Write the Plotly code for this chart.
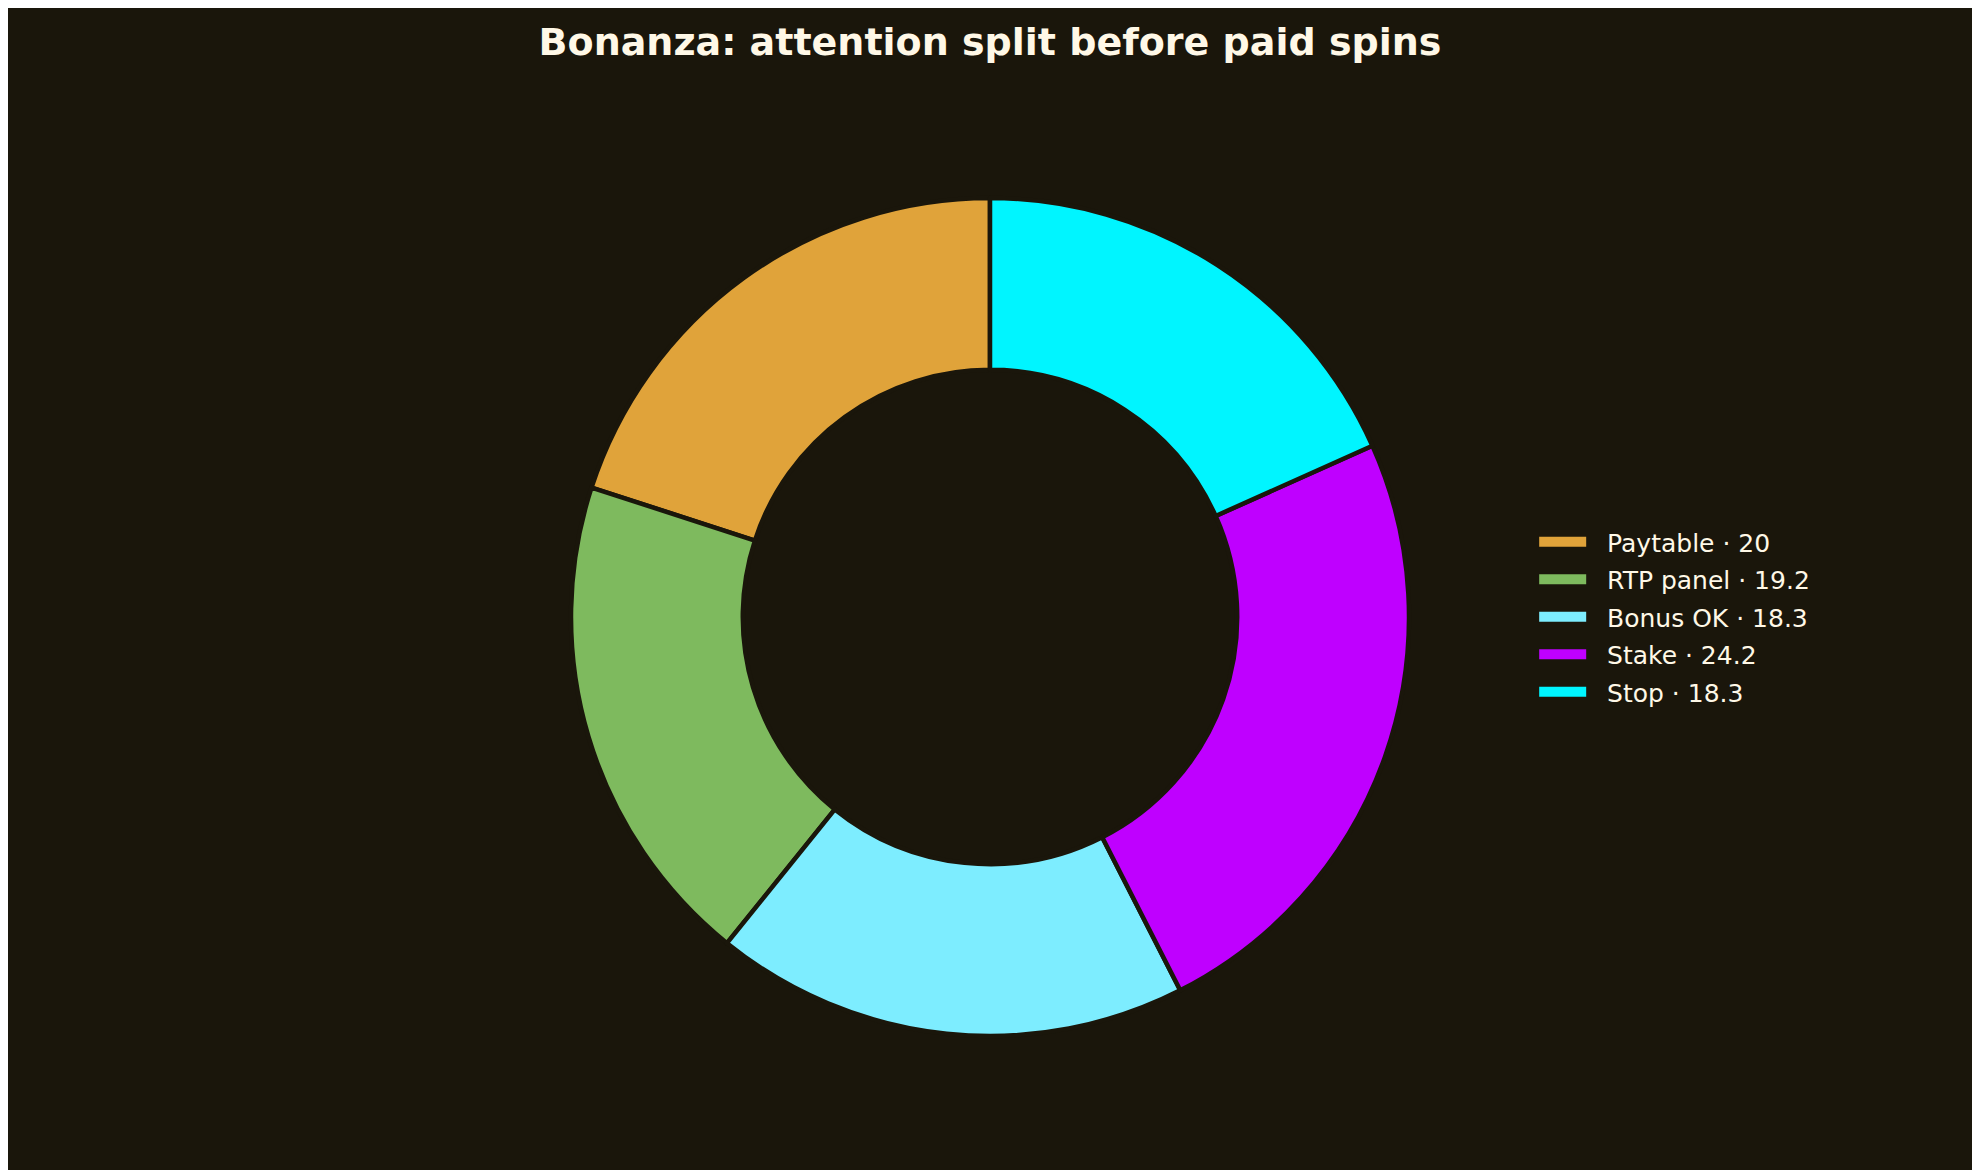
import plotly.graph_objects as go

labels = ["Paytable", "RTP panel", "Bonus OK", "Stake", "Stop"]
values = [20, 19.2, 18.3, 24.2, 18.3]
colors = ["#E0A33A", "#7EBA5E", "#7DEDFF", "#BF00FF", "#00F5FF"]

bg = "#1A160B"
ink = "#FFF8E7"

legend_names = ["{} · {:g}".format(l, v) for l, v in zip(labels, values)]

# first slice should start at 12 o'clock and run counterclockwise
start_rot = -360 * values[0] / sum(values)

fig = go.Figure()
fig.add_trace(go.Pie(
    labels=legend_names,
    values=values,
    hole=0.59,
    sort=False,
    direction="counterclockwise",
    rotation=start_rot,
    textinfo="none",
    showlegend=False,
    marker=dict(colors=colors, line=dict(color=bg, width=4.5)),
))

# legend entries drawn as wide swatches
for name, c in zip(legend_names, colors):
    fig.add_trace(go.Scatter(
        x=[None], y=[None], mode="lines", name="\u00a0\u00a0" + name,
        legendgroup=name,
        line=dict(color=c, width=13), hoverinfo="skip",
    ))

fig.update_layout(
    width=1980,
    height=1170,
    paper_bgcolor=bg,
    plot_bgcolor=bg,
    font=dict(family="DejaVu Sans", color=ink),
    title=dict(
        text="<b>Bonanza: attention split before paid spins</b>",
        x=0.5 - 8 / 1980, xanchor="center",
        y=1 - 34 / 1170, yanchor="middle",
        font=dict(size=38, color=ink, family="DejaVu Sans"),
    ),
    margin=dict(l=72, r=88, t=190, b=142),
    xaxis=dict(visible=False),
    yaxis=dict(visible=False),
    legend=dict(
        x=0.799, xanchor="left",
        y=0.5, yanchor="middle",
        font=dict(size=25, color=ink),
        itemwidth=47,
        tracegroupgap=2,
        bgcolor="rgba(0,0,0,0)",
    ),
)

fig.write_html("out.html")
